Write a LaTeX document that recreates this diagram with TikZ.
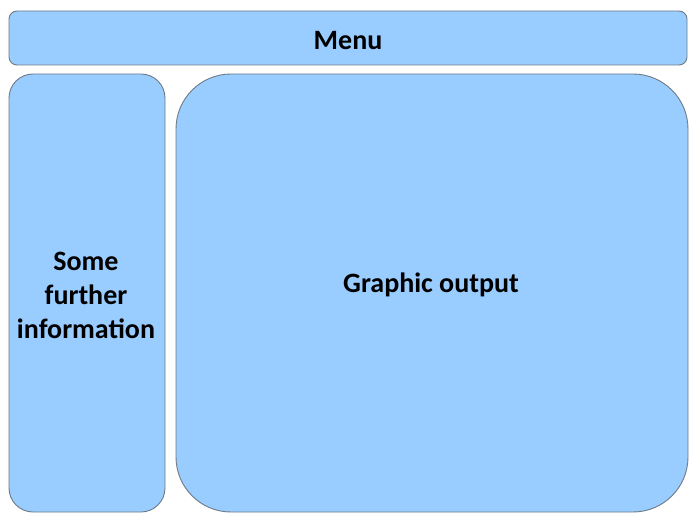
\documentclass[tikz,border=0pt]{standalone}
\usepackage{fontspec}
\setmainfont{Carlito}
\begin{document}
\begin{tikzpicture}[x=1pt,y=-1pt,
  panel/.style={draw=boxline,fill=boxfill,line width=0.9pt},
  lbl/.style={font=\fontsize{28}{34}\selectfont\bfseries,align=center,text=black,inner sep=0pt}]
\definecolor{boxfill}{HTML}{99CCFF}
\definecolor{boxline}{HTML}{6E7A86}
\useasboundingbox (0,0) rectangle (700,521);
\draw[panel,rounded corners=8] (9,11) rectangle (687,65);
\draw[panel,rounded corners=24] (9,74) rectangle (165,512);
\draw[panel,rounded corners=55] (176,74) rectangle (688,512);
\node[lbl] (menu) at (348,41) {Menu};
\node[lbl] (info) at (86,295) {Some\\further\\information};
\node[lbl] (graph) at (431,285) {Graphic output};
\end{tikzpicture}
\end{document}
